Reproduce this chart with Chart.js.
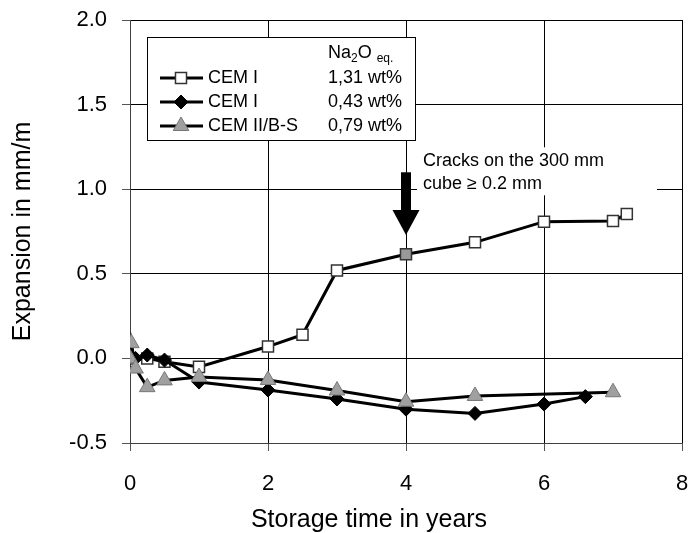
<!DOCTYPE html>
<html><head><meta charset="utf-8">
<script src="https://cdn.jsdelivr.net/npm/chart.js@4.4.0/dist/chart.umd.min.js"></script>
<style>html,body{margin:0;padding:0;background:#fff}#wrap{width:694px;height:533px}</style>
</head><body><div id="wrap"><canvas id="c" width="694" height="533"></canvas></div>
<script>
const xTicks=[0,2,4,6,8];
const yTicks=[-0.5,0,0.5,1.0,1.5,2.0];
const seriesNames=['CEM I','CEM I','CEM II/B-S'];
const seriesNa2O=['1,31 wt%','0,43 wt%','0,79 wt%'];
const cem1HighX=[0,0.25,0.5,1,2,2.5,3,4,5,6,7,7.2];
const cem1HighY=[0.0,0.0,-0.02,-0.05,0.07,0.14,0.52,0.615,0.686,0.808,0.812,0.853];
const cem1LowX=[0,0.08,0.25,0.5,1,2,3,4,5,6,6.6];
const cem1LowY=[0.02,0.0,0.02,-0.01,-0.14,-0.187,-0.24,-0.30,-0.325,-0.27,-0.226];
const cem2X=[0,0.02,0.08,0.25,0.5,1,2,3,4,5,7];
const cem2Y=[0.0,0.09,-0.06,-0.17,-0.13,-0.11,-0.128,-0.19,-0.256,-0.222,-0.2];
const arrowX=4, arrowTop=1.10, arrowTip=0.73;
const noteLines=['Cracks on the 300 mm','cube \u2265 0.2 mm'];
const xTitle='Storage time in years';
const yTitle='Expansion in mm/m';
const FONT='"Liberation Sans", Arial, sans-serif';

function pts(xs,ys){return xs.map((x,i)=>({x:x,y:ys[i]}));}

const styles=[
 {pointStyle:'rect',radius:7.8,bg:'#ffffff',border:'#333',bw:1.5},
 {pointStyle:'rectRot',radius:7,bg:'#000000',border:'#000',bw:1},
 {pointStyle:'triangle',radius:9,bg:'#a0a0a0',border:'#777',bw:1}
];

const overlay={
 id:'overlay',
 afterDatasetsDraw(chart){
  const ctx=chart.ctx, xs=chart.scales.x, ys=chart.scales.y;
  ctx.save();
  // arrow
  const ax=xs.getPixelForValue(arrowX);
  const yTop=ys.getPixelForValue(arrowTop), yTip=ys.getPixelForValue(arrowTip);
  const headH=25, headW=27, shaftW=10;
  ctx.fillStyle='#000';
  ctx.fillRect(ax-shaftW/2,yTop,shaftW,(yTip-headH)-yTop+1);
  ctx.beginPath();ctx.moveTo(ax-headW/2,yTip-headH);ctx.lineTo(ax+headW/2,yTip-headH);ctx.lineTo(ax,yTip);ctx.closePath();ctx.fill();
  // note
  ctx.font='18px '+FONT;ctx.textBaseline='middle';ctx.textAlign='left';
  const nx=ax+17, ny=yTop-11;
  ctx.fillStyle='#fff';ctx.fillRect(nx-6,ny-14,240,48);
  ctx.fillStyle='#000';
  noteLines.forEach((t,i)=>ctx.fillText(t,nx,ny+i*23));
  // legend
  const L=147,T=37,R=415,B=140;
  ctx.fillStyle='#fff';ctx.fillRect(L,T,R-L,B-T);
  ctx.strokeStyle='#000';ctx.lineWidth=1;ctx.strokeRect(L+0.5,T+0.5,R-L,B-T);
  const col2=328;
  ctx.fillStyle='#000';ctx.font='18px '+FONT;ctx.textBaseline='alphabetic';
  let hx=col2, hy=58;
  ctx.fillText('Na',hx,hy);hx+=ctx.measureText('Na').width;
  ctx.font='12px '+FONT;ctx.fillText('2',hx,hy+4);hx+=ctx.measureText('2').width;
  ctx.font='18px '+FONT;ctx.fillText('O',hx,hy);hx+=ctx.measureText('O ').width;
  ctx.font='12px '+FONT;ctx.fillText('eq.',hx,hy+4);
  const rows=[78,102,126];
  rows.forEach((ry,i)=>{
   ctx.strokeStyle='#000';ctx.lineWidth=3;
   ctx.beginPath();ctx.moveTo(160,ry);ctx.lineTo(203,ry);ctx.stroke();
   const s=styles[i];
   ctx.fillStyle=s.bg;ctx.strokeStyle=s.border;ctx.lineWidth=s.bw;
   Chart.helpers.drawPoint(ctx,{pointStyle:s.pointStyle,radius:s.radius,borderWidth:s.bw,rotation:0},181,ry);
   ctx.fillStyle='#000';ctx.font='18px '+FONT;ctx.textBaseline='middle';
   ctx.fillText(seriesNames[i],208,ry);
   ctx.fillText(seriesNa2O[i],col2,ry);
  });
  // x axis title
  ctx.font='25px '+FONT;ctx.textAlign='center';ctx.textBaseline='middle';ctx.fillStyle='#000';
  ctx.fillText(xTitle,369,520);
  ctx.restore();
 }
};

function mk(i,data,label,order,bgArr){
 const s=styles[i];
 return {label:label,data:data,showLine:true,borderColor:'#000',borderWidth:3,tension:0,
  pointStyle:s.pointStyle,pointRadius:s.radius,pointHoverRadius:s.radius,
  pointBackgroundColor:bgArr||s.bg,pointBorderColor:s.border,pointBorderWidth:s.bw,order:order};
}
function noPad(s){s.paddingLeft=0;s.paddingRight=0;s.paddingTop=0;s.paddingBottom=0;}

const hiBg=cem1HighX.map(x=>x===4?'#999999':'#ffffff');

new Chart(document.getElementById('c'),{
 type:'scatter',
 data:{datasets:[
  mk(2,pts(cem2X,cem2Y),'CEM II/B-S 0,79 wt%',0),
  mk(1,pts(cem1LowX,cem1LowY),'CEM I 0,43 wt%',1),
  mk(0,pts(cem1HighX,cem1HighY),'CEM I 1,31 wt%',2,hiBg)
 ]},
 options:{
  responsive:false,animation:false,devicePixelRatio:1,
  layout:{padding:{top:20,right:12,left:0,bottom:0}},
  plugins:{legend:{display:false},tooltip:{enabled:false}},
  scales:{
   x:{type:'linear',min:0,max:8,
    afterBuildTicks:s=>{s.ticks=xTicks.map(v=>({value:v}));},
    afterFit:s=>{s.height=90;noPad(s);},
    grid:{color:'#000',lineWidth:1,drawTicks:true,tickLength:8,tickColor:'#555'},
    border:{display:true,color:'#404040',width:1},
    ticks:{color:'#000',font:{family:FONT,size:22},padding:20,maxRotation:0,callback:v=>String(v)},
    title:{display:false}
   },
   y:{type:'linear',min:-0.5,max:2.0,
    afterBuildTicks:s=>{s.ticks=yTicks.map(v=>({value:v}));},
    afterFit:s=>{s.width=130;noPad(s);},
    grid:{color:'#000',lineWidth:1,drawTicks:true,tickLength:8,tickColor:'#555'},
    border:{display:true,color:'#404040',width:1},
    ticks:{color:'#000',font:{family:FONT,size:22},padding:15,callback:v=>Number(v).toFixed(1)},
    title:{display:true,text:yTitle,color:'#000',font:{family:FONT,size:25},padding:{top:8,bottom:0}}
   }
  }
 },
 plugins:[overlay]
});
</script></body></html>
